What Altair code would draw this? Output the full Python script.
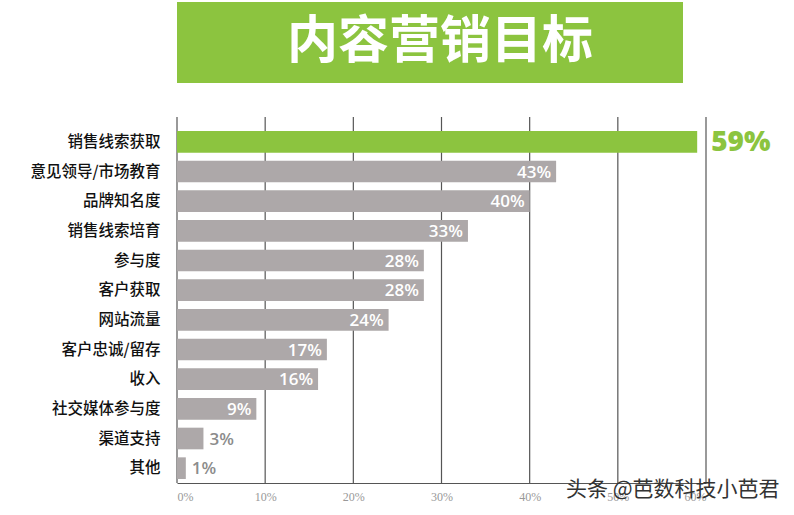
import altair as alt
import pandas as pd

categories = ["销售线索获取", "意见领导/市场教育", "品牌知名度", "销售线索培育", "参与度",
              "客户获取", "网站流量", "客户忠诚/留存", "收入", "社交媒体参与度", "渠道支持", "其他"]
values = [59, 43, 40, 33, 28, 28, 24, 17, 16, 9, 3, 1]
highlight = ["top"] + ["other"] * 11
tick_values = [0, 10, 20, 30, 40, 50, 60]
title_text = "内容营销目标"
watermark = "头条 @芭数科技小芭君"

df = pd.DataFrame({"cat": categories, "value": values, "group": highlight,
                   "label": [f"{v}%" for v in values]})
grid_df = pd.DataFrame({"t": tick_values})

W, H = 529, 356
GREEN = "#8CC43F"
GRAY = "#ADA8A9"
CJK = "Noto Sans CJK SC"

x_scale = alt.Scale(domain=[0, 60], nice=False)
y_enc = alt.Y("cat:N", sort=categories,
              scale=alt.Scale(paddingInner=0.27, paddingOuter=0.135),
              axis=alt.Axis(title=None, domain=False, ticks=False, labelPadding=17,
                            labelFont=CJK, labelFontSize=15.5, labelColor="#111",
                            labelFontWeight=500))

grid = alt.Chart(grid_df).mark_rule(color="#555", strokeWidth=1.2).encode(
    x=alt.X("t:Q", scale=x_scale,
            axis=alt.Axis(values=tick_values, title=None, ticks=False, grid=False,
                          domainColor="#555", domainWidth=1.2,
                          labelExpr="datum.value + '%'", labelColor="#999",
                          labelFontSize=12, labelFont="Liberation Sans Narrow",
                          labelPadding=8)),
    y=alt.value(-10), y2=alt.value(H))

bars = alt.Chart(df).mark_bar().encode(
    x=alt.X("value:Q", scale=x_scale),
    y=y_enc,
    color=alt.Color("group:N", scale=alt.Scale(domain=["top", "other"], range=[GREEN, GRAY]),
                    legend=None))

inside = alt.Chart(df).transform_filter("datum.value >= 9 && datum.group == 'other'").mark_text(
    align="right", baseline="middle", dx=-5, dy=1, color="white", fontSize=17,
    font="Open Sans", fontWeight=600).encode(
    x=alt.X("value:Q", scale=x_scale), y=alt.Y("cat:N", sort=categories), text="label:N")

outside = alt.Chart(df).transform_filter("datum.value < 9").mark_text(
    align="left", baseline="middle", dx=6, dy=1, color="#8c8c8c", fontSize=17,
    font="Open Sans", fontWeight=600).encode(
    x=alt.X("value:Q", scale=x_scale), y=alt.Y("cat:N", sort=categories), text="label:N")

top = alt.Chart(df).transform_filter("datum.group == 'top'").mark_text(
    align="left", baseline="middle", dx=14, dy=1, color=GREEN, fontSize=28,
    font="Open Sans", fontWeight=800).encode(
    x=alt.X("value:Q", scale=x_scale), y=alt.Y("cat:N", sort=categories), text="label:N")

title_box = alt.Chart(pd.DataFrame({"t": [title_text]})).mark_rect(color=GREEN).encode(
    x=alt.value(0), x2=alt.value(506), y=alt.value(-125), y2=alt.value(-44))
title = alt.Chart(pd.DataFrame({"t": [title_text]})).mark_text(
    color="white", fontSize=51, font=CJK, fontWeight=700, align="center", baseline="middle").encode(
    x=alt.value(263), y=alt.value(-84), text="t:N")
wm = alt.Chart(pd.DataFrame({"t": [watermark]})).mark_text(
    color="#333", fontSize=21, font=CJK, align="left", baseline="middle").encode(
    x=alt.value(389), y=alt.value(363), text="t:N")

chart = alt.layer(grid, bars, inside, outside, top, title_box, title, wm).properties(
    width=W, height=H,
    autosize=alt.AutoSizeParams(type="none"),
    padding={"left": 177, "top": 127, "right": 88, "bottom": 32},
    background="white",
).configure_view(stroke=None)

chart.save("out.html", embed_options={"renderer": "svg", "actions": False})
